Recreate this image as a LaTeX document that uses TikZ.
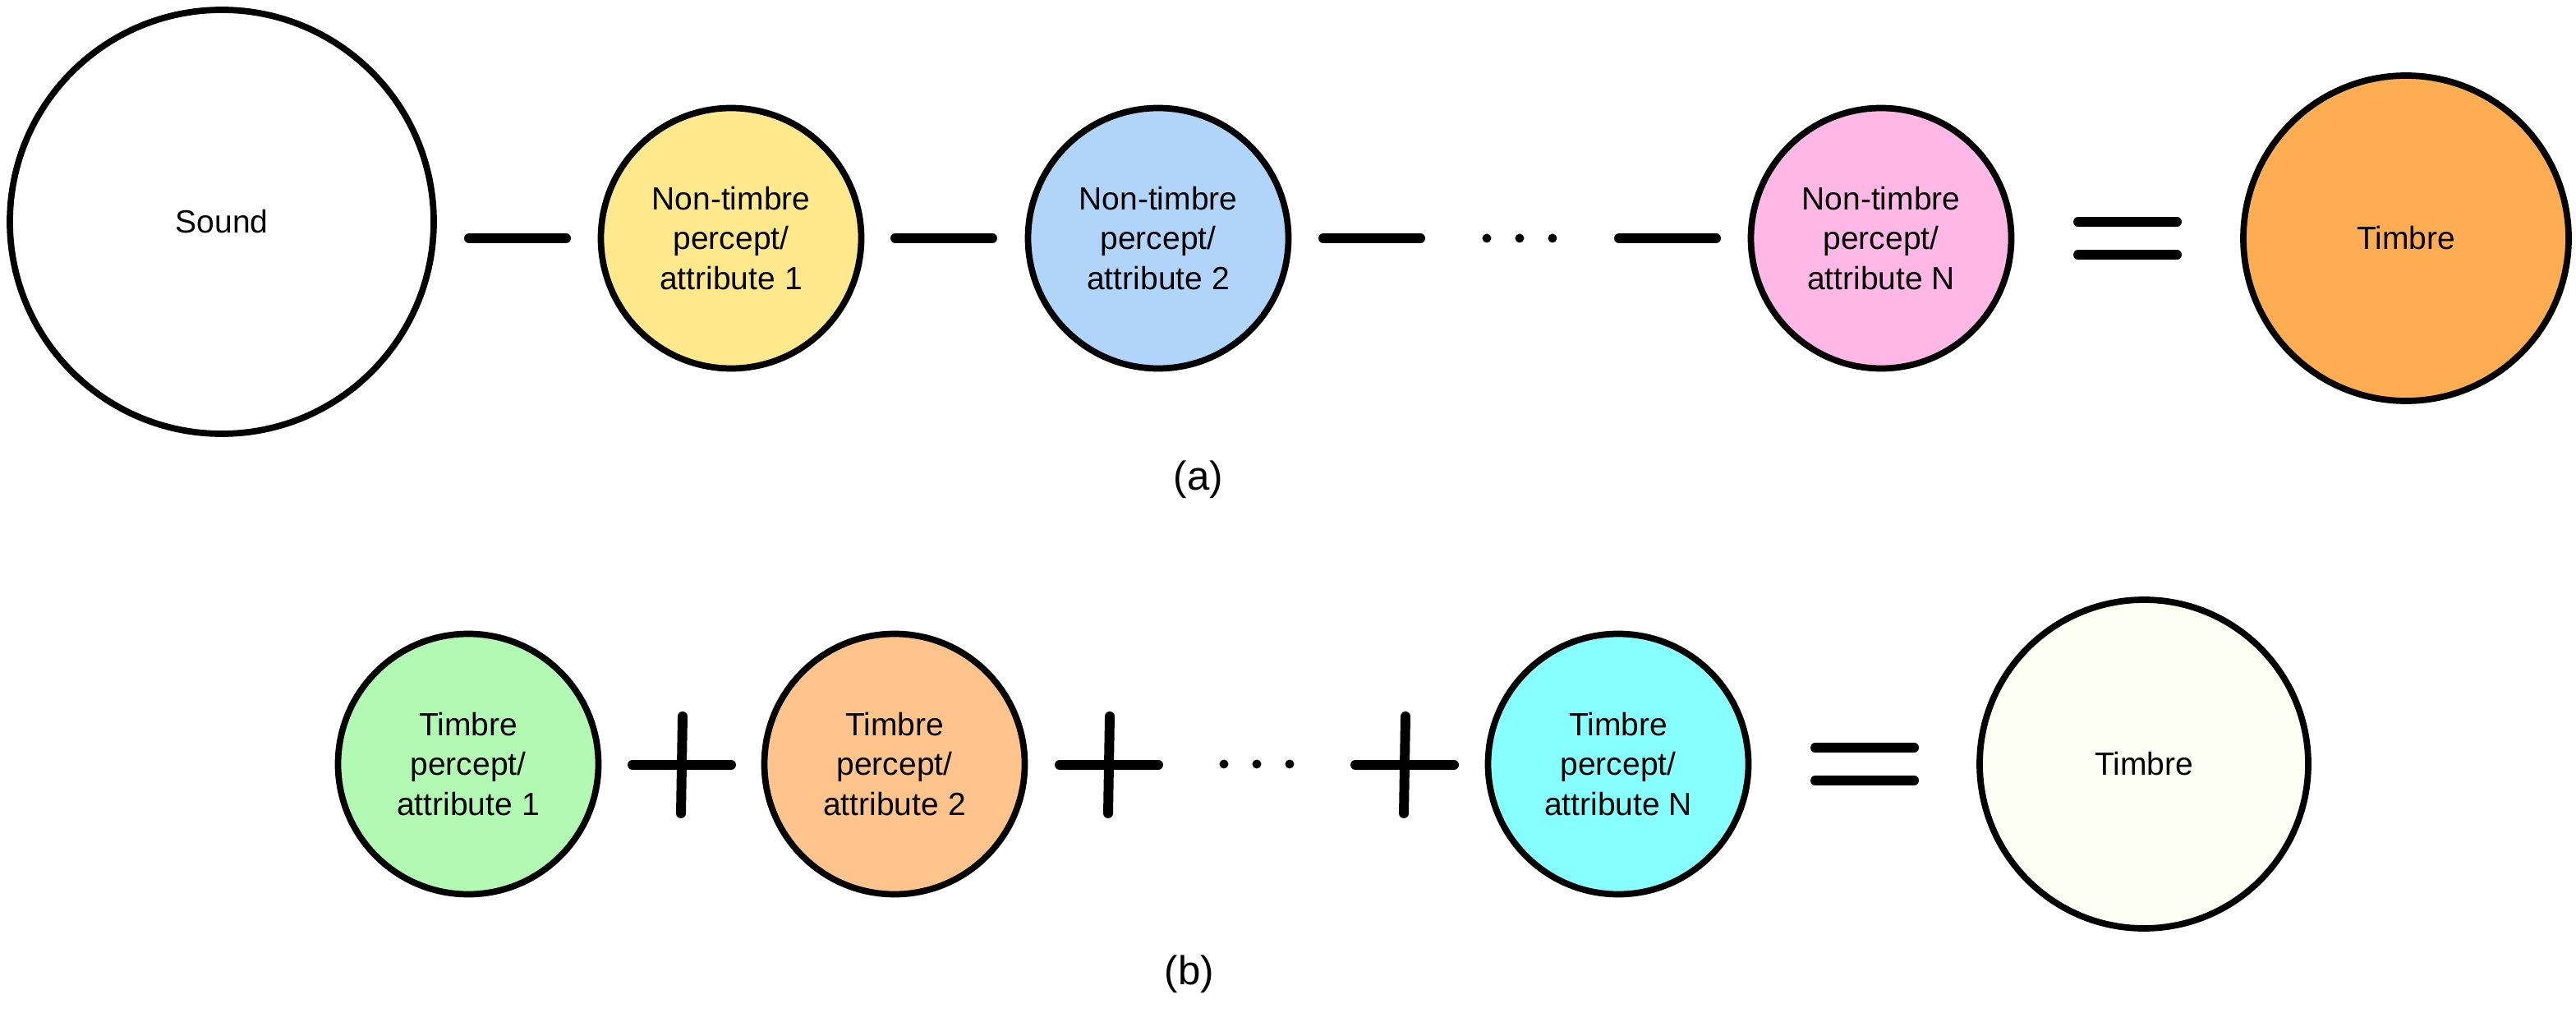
\documentclass[tikz,border=0pt]{standalone}
\usepackage{fontspec}
\setmainfont{Liberation Sans}
\usetikzlibrary{positioning}

\definecolor{ntyellow}{HTML}{FFE98C}
\definecolor{ntblue}{HTML}{B0D4FA}
\definecolor{ntpink}{HTML}{FFB8E6}
\definecolor{tborange}{HTML}{FFAD52}
\definecolor{tpgreen}{HTML}{B2FAB4}
\definecolor{tppeach}{HTML}{FFC48C}
\definecolor{tpcyan}{HTML}{88FFFF}
\definecolor{tbcream}{HTML}{FCFEF4}

\begin{document}
\begin{tikzpicture}[
    font=\fontsize{11.1}{13.7}\selectfont,
    blob/.style={draw, circle, line width=2.2pt, align=center, inner sep=0pt},
    part/.style={blob, minimum size=3.17cm},
    op/.style={line width=3.4pt, line cap=round},
    lbl/.style={font=\fontsize{14}{16}\selectfont},
    minussign/.pic={\draw[op] (-0.59,0) -- (0.59,0);},
    plussign/.pic={\draw[op] (-0.60,0) -- (0.60,0); \draw[op] (0.01,0.59) -- (-0.01,-0.59);},
    eqsign/.pic={\draw[op] (-0.60,0.20) -- (0.60,0.20); \draw[op] (-0.60,-0.20) -- (0.60,-0.20);},
    dotsign/.pic={\foreach \x in {-0.40,0,0.40} \fill (\x,0) circle (0.055);}
  ]
    \useasboundingbox (0,0) rectangle (31.36,12.32);

    % (a) subtraction
    \node[blob, minimum size=5.16cm] (S) at (2.70,9.62) {Sound};
    \node[part, fill=ntyellow] (NT1) at (8.90,9.42) {Non-timbre\\percept/\\attribute 1};
    \node[part, fill=ntblue] (NT2) at (14.10,9.42) {Non-timbre\\percept/\\attribute 2};
    \node[part, fill=ntpink] (NTN) at (22.90,9.42) {Non-timbre\\percept/\\attribute N};
    \node[blob, minimum size=3.96cm, fill=tborange] (T) at (29.29,9.42) {Timbre};
    \node[lbl] (A) at (14.59,6.48) {(a)};

    \pic at (6.30,9.42) {minussign};
    \pic at (11.49,9.42) {minussign};
    \pic at (16.70,9.42) {minussign};
    \pic at (18.50,9.42) {dotsign};
    \pic at (20.30,9.42) {minussign};
    \pic at (25.90,9.42) {eqsign};

    % (b) sum
    \node[part, fill=tpgreen] (TP1) at (5.70,3.02) {Timbre\\percept/\\attribute 1};
    \node[part, fill=tppeach] (TP2) at (10.89,3.02) {Timbre\\percept/\\attribute 2};
    \node[part, fill=tpcyan] (TPN) at (19.70,3.02) {Timbre\\percept/\\attribute N};
    \node[blob, minimum size=4.00cm, fill=tbcream] (TB) at (26.10,3.02) {Timbre};
    \node[lbl] (B) at (14.48,0.46) {(b)};

    \pic at (8.30,3.01) {plussign};
    \pic at (13.50,3.01) {plussign};
    \pic at (15.30,3.02) {dotsign};
    \pic at (17.10,3.01) {plussign};
    \pic at (22.70,3.02) {eqsign};
\end{tikzpicture}
\end{document}
